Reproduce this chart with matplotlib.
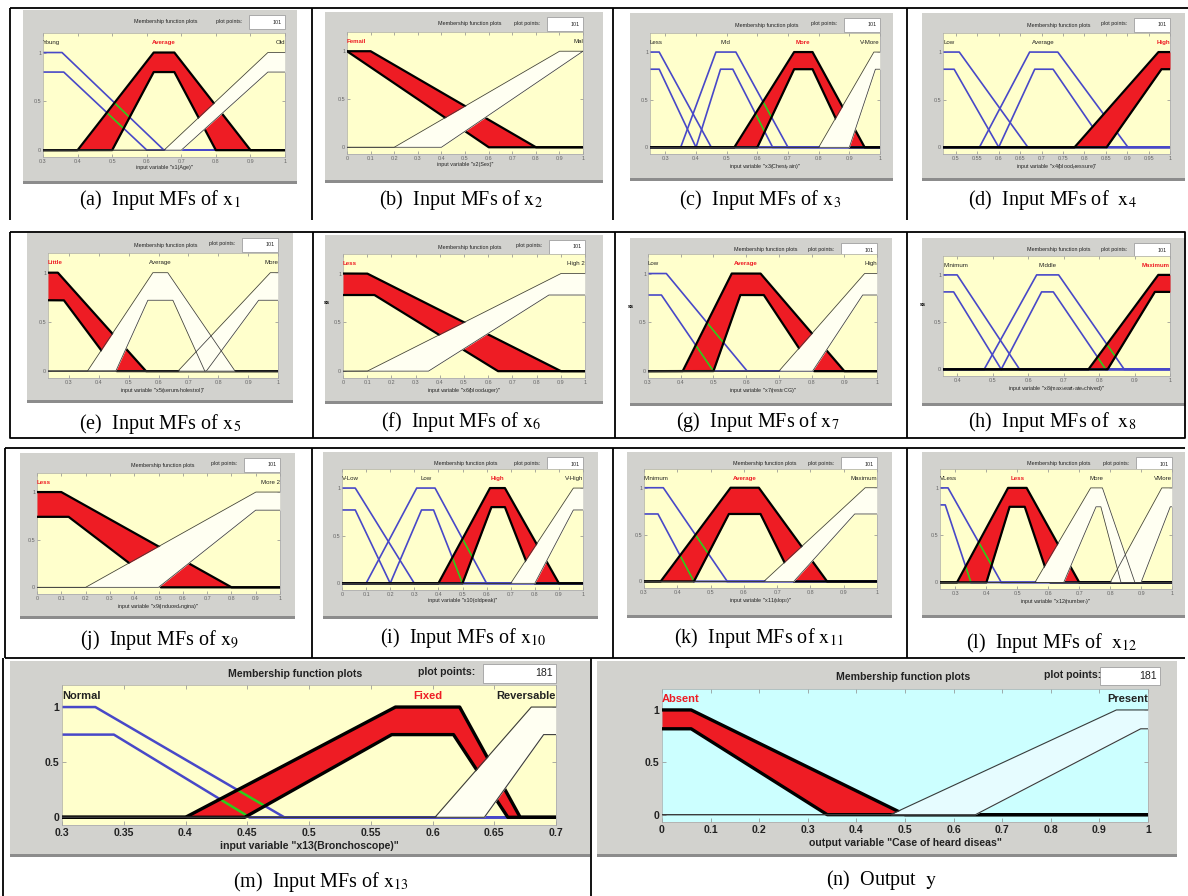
import numpy as np
import matplotlib.pyplot as plt
from matplotlib.patches import Rectangle

plt.rcParams['font.family'] = ['Liberation Sans', 'DejaVu Sans']
plt.rcParams['mathtext.fontset'] = 'stix'

W, H = 1188, 896

# membership functions: upper = [a, b, c, d] (height 1), lower = [a, b, c, d, height]
# kinds: 'sel' = selected set (red), 'blue' = plotted in blue, 'fou' = plain band
AGE_RANGE = (0.3, 1.0)
AGE_NAMES = ['Young', 'Average', 'Old']
AGE_KINDS = ['blue', 'sel', 'fou']
AGE_UPPER = [[0.2, 0.3, 0.355, 0.65], [0.4, 0.62, 0.68, 0.9], [0.65, 0.95, 1.0, 1.1]]
AGE_LOWER = [[0.2, 0.3, 0.36, 0.6, 0.8], [0.5, 0.62, 0.68, 0.8, 0.8], [0.7, 0.95, 1.0, 1.1, 0.8]]

SEX_RANGE = (0.0, 1.0)
SEX_NAMES = ['Femail', 'Mal']
SEX_KINDS = ['sel', 'fou']
SEX_UPPER = [[-0.1, 0.0, 0.1, 0.8], [0.2, 0.9, 1.0, 1.1]]
SEX_LOWER = [[-0.1, 0.0, 0.0, 0.6, 1.0], [0.4, 1.0, 1.0, 1.1, 1.0]]

CHEST_RANGE = (0.25, 1.0)
CHEST_NAMES = ['Less', 'Mid', 'More', 'V-More']
CHEST_KINDS = ['blue', 'blue', 'sel', 'fou']
CHEST_UPPER = [[0.15, 0.25, 0.28, 0.45], [0.35, 0.465, 0.53, 0.7],
               [0.525, 0.72, 0.78, 0.95], [0.8, 0.98, 1.0, 1.1]]
CHEST_LOWER = [[0.15, 0.25, 0.28, 0.4, 0.82], [0.4, 0.48, 0.52, 0.65, 0.82],
               [0.6, 0.72, 0.78, 0.9, 0.82], [0.9, 0.985, 1.0, 1.1, 0.82]]

BP_RANGE = (0.47, 1.0)
BP_NAMES = ['Low', 'Average', 'High']
BP_KINDS = ['blue', 'blue', 'sel']
BP_UPPER = [[0.37, 0.47, 0.508, 0.668], [0.555, 0.672, 0.738, 0.902], [0.777, 0.973, 1.0, 1.1]]
BP_LOWER = [[0.37, 0.47, 0.496, 0.6, 0.82], [0.6, 0.684, 0.727, 0.852, 0.82],
            [0.852, 0.98, 1.0, 1.1, 0.82]]

CHOL_RANGE = (0.23, 1.0)
CHOL_NAMES = ['Little', 'Average', 'More']
CHOL_KINDS = ['sel', 'fou', 'fou']
CHOL_UPPER = [[0.13, 0.23, 0.263, 0.558], [0.362, 0.581, 0.631, 0.856], [0.665, 0.974, 1.0, 1.1]]
CHOL_LOWER = [[0.13, 0.23, 0.283, 0.46, 0.72], [0.457, 0.564, 0.648, 0.755, 0.72],
              [0.76, 0.935, 1.0, 1.1, 0.72]]

SUGAR_RANGE = (0.0, 1.0)
SUGAR_NAMES = ['Less', 'High 2']
SUGAR_KINDS = ['sel', 'fou']
SUGAR_UPPER = [[-0.1, 0.0, 0.1, 0.9], [0.1, 0.9, 1.0, 1.1]]
SUGAR_LOWER = [[-0.1, 0.0, 0.13, 0.64, 0.78], [0.353, 0.85, 1.0, 1.1, 0.78]]

ECG_RANGE = (0.3, 1.0)
ECG_NAMES = ['Low', 'Average', 'High']
ECG_KINDS = ['blue', 'sel', 'fou']
ECG_UPPER = [[0.2, 0.3, 0.356, 0.603], [0.406, 0.556, 0.644, 0.9], [0.7, 0.962, 1.0, 1.1]]
ECG_LOWER = [[0.2, 0.3, 0.341, 0.5, 0.78], [0.5, 0.582, 0.654, 0.808, 0.78],
             [0.803, 0.956, 1.0, 1.1, 0.78]]

HEART_RANGE = (0.36, 1.0)
HEART_NAMES = ['Minimum', 'Middle', 'Maximum']
HEART_KINDS = ['blue', 'blue', 'sel']
HEART_UPPER = [[0.26, 0.36, 0.4, 0.576], [0.476, 0.624, 0.686, 0.871], [0.77, 0.967, 1.0, 1.1]]
HEART_LOWER = [[0.26, 0.36, 0.39, 0.524, 0.82], [0.524, 0.638, 0.671, 0.819, 0.82],
               [0.824, 0.957, 1.0, 1.1, 0.82]]

ANGINA_RANGE = (0.0, 1.0)
ANGINA_NAMES = ['Less', 'More 2']
ANGINA_KINDS = ['sel', 'fou']
ANGINA_UPPER = [[-0.1, 0.0, 0.1, 0.8], [0.2, 0.9, 1.0, 1.1]]
ANGINA_LOWER = [[-0.1, 0.0, 0.13, 0.51, 0.74], [0.5, 0.9, 1.0, 1.1, 0.81]]

OLDPEAK_RANGE = (0.0, 1.0)
OLDPEAK_NAMES = ['V-Low', 'Low', 'High', 'V-High']
OLDPEAK_KINDS = ['blue', 'blue', 'sel', 'fou']
OLDPEAK_UPPER = [[-0.1, 0.0, 0.055, 0.3], [0.1, 0.31, 0.386, 0.6],
                 [0.4, 0.614, 0.676, 0.9], [0.7, 0.96, 1.0, 1.1]]
OLDPEAK_LOWER = [[-0.1, 0.0, 0.055, 0.2, 0.77], [0.2, 0.33, 0.38, 0.5, 0.77],
                 [0.5, 0.62, 0.676, 0.8, 0.8], [0.8, 0.96, 1.0, 1.1, 0.77]]

SLOPE_RANGE = (0.3, 1.0)
SLOPE_NAMES = ['Minimum', 'Average', 'Maximum']
SLOPE_KINDS = ['blue', 'sel', 'fou']
SLOPE_UPPER = [[0.2, 0.3, 0.358, 0.55], [0.35, 0.56, 0.645, 0.85], [0.66, 0.964, 1.0, 1.1]]
SLOPE_LOWER = [[0.2, 0.3, 0.342, 0.45, 0.72], [0.45, 0.555, 0.65, 0.75, 0.72],
               [0.75, 0.933, 1.0, 1.1, 0.72]]

VESSEL_RANGE = (0.25, 1.0)
VESSEL_NAMES = ['VLess', 'Less', 'More', 'VMore']
VESSEL_KINDS = ['blue', 'sel', 'fou', 'fou']
VESSEL_UPPER = [[0.15, 0.25, 0.276, 0.448], [0.305, 0.47, 0.53, 0.7],
                [0.557, 0.737, 0.775, 0.88], [0.8, 0.967, 1.0, 1.1]]
VESSEL_LOWER = [[0.15, 0.25, 0.267, 0.35, 0.82], [0.4, 0.475, 0.524, 0.606, 0.8],
                [0.65, 0.754, 0.77, 0.835, 0.8], [0.9, 0.994, 1.0, 1.1, 0.8]]

BRONCH_RANGE = (0.3, 0.7)
BRONCH_NAMES = ['Normal', 'Fixed', 'Reversable']
BRONCH_KINDS = ['blue', 'sel', 'fou']
BRONCH_UPPER = [[0.25, 0.3, 0.327, 0.48], [0.4, 0.57, 0.622, 0.671], [0.602, 0.68, 0.7, 0.75]]
BRONCH_LOWER = [[0.25, 0.3, 0.342, 0.452, 0.75], [0.448, 0.567, 0.617, 0.661, 0.75],
                [0.642, 0.69, 0.7, 0.75, 0.75]]

OUT_RANGE = (0.0, 1.0)
OUT_NAMES = ['Absent', 'Present']
OUT_KINDS = ['sel', 'fou']
OUT_UPPER = [[-0.1, 0.0, 0.06, 0.5], [0.47, 0.935, 1.0, 1.1]]
OUT_LOWER = [[-0.1, 0.0, 0.06, 0.34, 0.82], [0.645, 0.985, 1.0, 1.1, 0.82]]

PLOT_POINTS = ['101'] * 12 + ['181', '181']

GRAY = '#d2d2ce'
YELLOW = '#ffffcc'
CYAN = '#ccffff'
RED = '#ee1c24'
BLUE = '#4848c8'
GREEN = '#2ecc1a'


def trap(x, p, h=1.0):
    return h * np.interp(x, p[:4], [0, 1, 1, 0], left=0, right=0)


fig = plt.figure(figsize=(W / 100, H / 100), dpi=100)
bg = fig.add_axes([0, 0, 1, 1], zorder=0)
bg.set_xlim(0, W)
bg.set_ylim(H, 0)
bg.axis('off')


def px_axes(box):
    x0, y0, x1, y1 = box
    return fig.add_axes([x0 / W, 1 - y1 / H, (x1 - x0) / W, (y1 - y0) / H], zorder=2)


def draw_panel(rng, names, kinds, upper, lower, ax_box, gray_box, xlabel, step,
               points, big=False, green=True, face=YELLOW, fou='#fffff2',
               title_xy=None, pp_xy=None, pp_box=None):
    gx0, gy0, gx1, gy1 = gray_box
    bg.add_patch(Rectangle((gx0, gy0), gx1 - gx0, gy1 - gy0, color=GRAY, lw=0))
    bg.add_patch(Rectangle((gx0, gy1 - 2), gx1 - gx0, 3, color='#8c8c8c', lw=0))

    ax0, ay0, ax1, ay1 = ax_box
    fs = 7.6 if big else 3.9
    wt = 'bold' if big else 'normal'
    if title_xy is None:
        title_xy = (gx0 + 0.52 * (gx1 - gx0), gy0 + 12)
        pp_box = (ax1 - 36, gy0 + 5, ax1, gy0 + 19)
        pp_xy = (ax1 - 56, gy0 + 11)
    bg.text(*title_xy, 'Membership function plots', fontsize=fs, fontweight=wt,
            ha='center', va='center', color='#222')
    bg.text(*pp_xy, 'plot points:', fontsize=fs, fontweight=wt, ha='center',
            va='center', color='#222')
    bx0, by0, bx1, by1 = pp_box
    bg.add_patch(Rectangle((bx0, by0), bx1 - bx0, by1 - by0, facecolor='white',
                           edgecolor='#a0a0a0', lw=0.6))
    bg.text(bx1 - 3, (by0 + by1) / 2, points, fontsize=fs, ha='right', va='center',
            color='#222')

    ax = px_axes(ax_box)
    lo, hi = rng
    ax.set_facecolor(face)
    ax.set_xlim(lo, hi)
    ax.set_ylim(-0.07, 1.2)
    ticks = np.round(np.arange(np.ceil(lo / step - 1e-6) * step, hi + 1e-6, step), 3)
    ax.set_xticks(ticks, [f'{t + 0.0:g}' for t in ticks])
    ax.set_yticks([0, 0.5, 1], ['0', '0.5', '1'])
    ax.tick_params(direction='in', top=True, right=True, length=3 if big else 2,
                   width=0.5, colors='#8a8a8a', labelcolor='#222' if big else '#666',
                   labelsize=fs, pad=2 if big else 1.2)
    if big:
        for lab in ax.get_xticklabels() + ax.get_yticklabels():
            lab.set_fontweight('bold')
    for sp in ax.spines.values():
        sp.set_color('#a8a8a8')
        sp.set_linewidth(0.5)
    ax.set_xlabel(xlabel, fontsize=fs, fontweight=wt, labelpad=2 if big else 1.2,
                  color='#222')

    pts = [v for p in upper + lower for v in p[:4] if lo <= v <= hi]
    xs = np.union1d(np.linspace(lo, hi, 1201), pts)
    lw_blue, lw_edge, lw_thin = (1.8, 2.4, 0.8) if big else (1.2, 1.6, 0.55)
    blue_curves = []
    sel_fill = None
    for kind, up, low in zip(kinds, upper, lower):
        yu = trap(xs, up)
        yl = trap(xs, low[:4], low[4])
        if kind == 'blue':
            for y in (yu, yl):
                ax.plot(xs, y, color=BLUE, lw=lw_blue, zorder=2)
                # keep the flat zero part above the red band, below its outline
                ax.plot(xs, np.where(y == 0, 0.0, np.nan), color=BLUE, lw=lw_blue,
                        zorder=4.5)
                blue_curves.append(y)
        elif kind == 'sel':
            sel_fill = ax.fill_between(xs, yl, yu, color=RED, lw=0, zorder=3)
            for y in (yu, yl):
                ax.plot(xs, y, color='black', lw=lw_edge, zorder=5)
        else:
            ax.fill_between(xs, yl, yu, color=fou, lw=0, zorder=6)
            for y in (yu, yl):
                ax.plot(xs, y, color='#3a3a3a', lw=lw_thin, zorder=7)
    # blue sets show through the selected band in green
    if green and sel_fill is not None:
        clip = sel_fill.get_paths()[0]
        for y in blue_curves:
            ln, = ax.plot(xs, np.where(y > 0, y, np.nan), color=GREEN, lw=lw_blue,
                          zorder=4)
            ln.set_clip_path(clip, ax.transData)

    span = hi - lo
    for name, kind, up in zip(names, kinds, upper):
        cx = min(max((up[1] + up[2]) / 2, lo), hi)
        ha = 'center'
        if cx - lo < 0.07 * span:
            cx, ha = lo, 'left'
        elif hi - cx < 0.07 * span:
            cx, ha = hi, 'right'
        sel = kind == 'sel'
        ax.text(cx, 1.1, name, ha=ha, va='center', fontsize=8 if big else 4.4,
                color=RED if sel else '#222', fontweight='bold' if (sel or big) else 'normal',
                zorder=8)
    return ax


def caption(x, y, s):
    bg.text(x, y, s, fontsize=14.5, family='Liberation Serif', ha='center',
            va='center', color='black')


# first row
draw_panel(AGE_RANGE, AGE_NAMES, AGE_KINDS, AGE_UPPER, AGE_LOWER,
           (43, 33, 285, 157), (23, 10, 297, 183), 'input variable "x1(Age)"', 0.1,
           PLOT_POINTS[0])
draw_panel(SEX_RANGE, SEX_NAMES, SEX_KINDS, SEX_UPPER, SEX_LOWER,
           (347, 32, 583, 154), (325, 12, 603, 182), 'input variable "x2(Sex)"', 0.1,
           PLOT_POINTS[1])
draw_panel(CHEST_RANGE, CHEST_NAMES, CHEST_KINDS, CHEST_UPPER, CHEST_LOWER,
           (650, 33, 880, 154), (630, 13, 893, 180),
           'input variable "x3(Chest$_p$ain)"', 0.1, PLOT_POINTS[2])
draw_panel(BP_RANGE, BP_NAMES, BP_KINDS, BP_UPPER, BP_LOWER,
           (943, 33, 1170, 154), (922, 13, 1185, 180),
           'input variable "x4(blood$_p$ressure)"', 0.05, PLOT_POINTS[3], green=False)

# second row
draw_panel(CHOL_RANGE, CHOL_NAMES, CHOL_KINDS, CHOL_UPPER, CHOL_LOWER,
           (48, 253, 278, 378), (27, 233, 293, 402),
           'input variable "x5(serum$_c$holestrol)"', 0.1, PLOT_POINTS[4])
draw_panel(SUGAR_RANGE, SUGAR_NAMES, SUGAR_KINDS, SUGAR_UPPER, SUGAR_LOWER,
           (343, 254, 585, 378), (325, 235, 603, 403),
           'input variable "x6(blood$_s$uger)"', 0.1, PLOT_POINTS[5])
draw_panel(ECG_RANGE, ECG_NAMES, ECG_KINDS, ECG_UPPER, ECG_LOWER,
           (648, 254, 877, 378), (630, 238, 892, 405),
           'input variable "x7(rest$_E$CG)"', 0.1, PLOT_POINTS[6])
draw_panel(HEART_RANGE, HEART_NAMES, HEART_KINDS, HEART_UPPER, HEART_LOWER,
           (943, 256, 1170, 376), (922, 238, 1185, 405),
           'input variable "x8(max$_h$eart$_r$ate$_a$chived)"', 0.1, PLOT_POINTS[7])

# third row
draw_panel(ANGINA_RANGE, ANGINA_NAMES, ANGINA_KINDS, ANGINA_UPPER, ANGINA_LOWER,
           (37, 473, 280, 594), (20, 453, 295, 618),
           'input variable "x9(induced$_a$ngina)"', 0.1, PLOT_POINTS[8])
draw_panel(OLDPEAK_RANGE, OLDPEAK_NAMES, OLDPEAK_KINDS, OLDPEAK_UPPER, OLDPEAK_LOWER,
           (342, 469, 583, 590), (323, 452, 598, 618),
           'input variable "x10(oldpeak)"', 0.1, PLOT_POINTS[9])
draw_panel(SLOPE_RANGE, SLOPE_NAMES, SLOPE_KINDS, SLOPE_UPPER, SLOPE_LOWER,
           (644, 469, 877, 588), (627, 452, 892, 617),
           'input variable "x11(slop$_S$)"', 0.1, PLOT_POINTS[10])
draw_panel(VESSEL_RANGE, VESSEL_NAMES, VESSEL_KINDS, VESSEL_UPPER, VESSEL_LOWER,
           (940, 469, 1172, 589), (922, 452, 1185, 617),
           'input variable "x12(number$_v$)"', 0.1, PLOT_POINTS[11])

# bottom row
draw_panel(BRONCH_RANGE, BRONCH_NAMES, BRONCH_KINDS, BRONCH_UPPER, BRONCH_LOWER,
           (62, 685, 556, 825), (10, 661, 590, 856),
           'input variable "x13(Bronchoscope)"', 0.05, PLOT_POINTS[12], big=True,
           title_xy=(295, 674), pp_xy=(447, 672), pp_box=(483, 664, 556, 683))
draw_panel(OUT_RANGE, OUT_NAMES, OUT_KINDS, OUT_UPPER, OUT_LOWER,
           (662, 689, 1148, 822), (597, 661, 1177, 856),
           'output variable "Case of heard diseas"', 0.1, PLOT_POINTS[13], big=True,
           face=CYAN, fou='#e6fcff',
           title_xy=(903, 677), pp_xy=(1073, 675), pp_box=(1100, 667, 1160, 685))

caption(160, 200, r'(a)  Input MFs of $\mathrm{x}_{1}$')
caption(461, 200, r'(b)  Input MFs of $\mathrm{x}_{2}$')
caption(760, 200, r'(c)  Input MFs of $\mathrm{x}_{3}$')
caption(1052, 200, r'(d)  Input MFs of  $\mathrm{x}_{4}$')
caption(160, 424, r'(e)  Input MFs of $\mathrm{x}_{5}$')
caption(461, 422, r'(f)  Input MFs of $\mathrm{x}_{6}$')
caption(758, 422, r'(g)  Input MFs of $\mathrm{x}_{7}$')
caption(1052, 422, r'(h)  Input MFs of  $\mathrm{x}_{8}$')
caption(160, 640, r'(j)  Input MFs of $\mathrm{x}_{9}$')
caption(463, 638, r'(i)  Input MFs of $\mathrm{x}_{10}$')
caption(759, 638, r'(k)  Input MFs of $\mathrm{x}_{11}$')
caption(1052, 643, r'(l)  Input MFs of  $\mathrm{x}_{12}$')
caption(321, 882, r'(m)  Input MFs of $\mathrm{x}_{13}$')
caption(882, 880, r'(n)  Output  $\mathrm{y}$')

# clipped axis-label remnants at the panel edges
for x, y in [(327, 303), (631, 307), (923, 305)]:
    bg.text(x, y, 'ss', fontsize=4, fontweight='bold', ha='center', va='center')

# table rules
rule = dict(color='black', lw=1.3, solid_capstyle='butt')
bg.plot([10, W], [8, 8], **rule)
for x in (10, 312, 613, 907):
    bg.plot([x, x], [8, 220], **rule)
bg.plot([10, 1185, 1185, 10, 10], [232, 232, 438, 438, 232], **rule)
for x in (313, 615, 907):
    bg.plot([x, x], [232, 438], **rule)
bg.plot([5, 1185], [448, 448], **rule)
bg.plot([5, 1185], [658, 658], **rule)
for x in (5, 312, 613, 907):
    bg.plot([x, x], [448, 658], **rule)
for x in (3, 591):
    bg.plot([x, x], [658, H], **rule)

fig.savefig('out.png', dpi=100)
